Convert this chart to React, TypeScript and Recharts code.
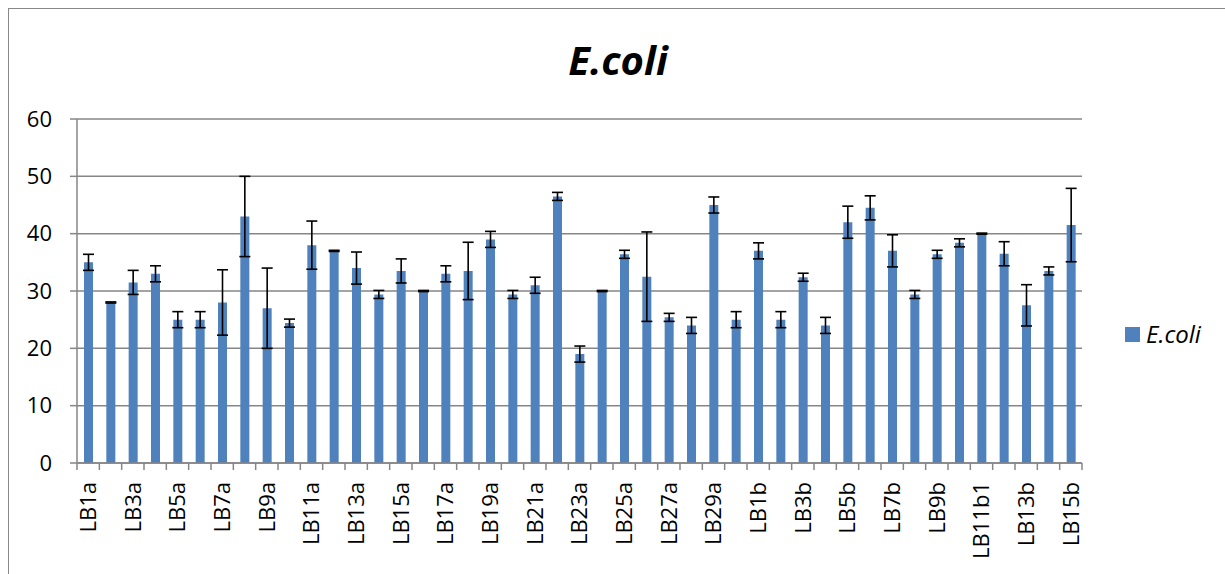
import { ComposedChart, Bar, ErrorBar, XAxis, YAxis, CartesianGrid, Legend } from "recharts";

const categories = [
  "LB1a", "LB2a", "LB3a", "LB4a", "LB5a", "LB6a", "LB7a", "LB8a", "LB9a", "LB10a",
  "LB11a", "LB12a", "LB13a", "LB14a", "LB15a", "LB16a", "LB17a", "LB18a", "LB19a", "LB20a",
  "LB21a", "LB22a", "LB23a", "LB24a", "LB25a", "LB26a", "LB27a", "LB28a", "LB29a", "LB30a",
  "LB1b", "LB2b", "LB3b", "LB4b", "LB5b", "LB6b", "LB7b", "LB8b", "LB9b", "LB10b",
  "LB11b1", "LB12b", "LB13b", "LB14b", "LB15b",
];

const ecoli = [
  35, 28, 31.5, 33, 25, 25, 28, 43, 27, 24.4,
  38, 37, 34, 29.4, 33.5, 30, 33, 33.5, 39, 29.4,
  31, 46.5, 19, 30, 36.4, 32.5, 25.4, 24, 45, 25,
  37, 25, 32.4, 24, 42, 44.5, 37, 29.4, 36.4, 38.4,
  40, 36.5, 27.5, 33.5, 41.5,
];

const ecoliErr = [
  1.4, 0.1, 2.1, 1.4, 1.4, 1.4, 5.7, 7, 7, 0.7,
  4.2, 0.1, 2.8, 0.7, 2.1, 0.1, 1.4, 5, 1.4, 0.7,
  1.4, 0.7, 1.4, 0.1, 0.7, 7.8, 0.7, 1.4, 1.4, 1.4,
  1.4, 1.4, 0.7, 1.4, 2.8, 2.1, 2.8, 0.7, 0.7, 0.7,
  0.1, 2.1, 3.6, 0.7, 6.4,
];

const yTicks = [0, 10, 20, 30, 40, 50, 60];

const data = categories.map((name, i) => ({ name, ecoli: ecoli[i], err: ecoliErr[i] }));

const CHART_W = 1216;
const CHART_H = 565;
const MARGIN = { top: 110, right: 53, bottom: 0, left: 0 };
const Y_AXIS_W = 68;
const LEGEND_W = 90;
const PLOT_W = CHART_W - MARGIN.left - MARGIN.right - Y_AXIS_W - LEGEND_W;
const AXIS_COLOR = "#868686";
const BAR_COLOR = "#4f81bd";
const FONT = "'Open Sans', sans-serif";

// excel style: tick marks between categories, label on every other one
function CategoryTick(props: any) {
  const { x, y, payload, index } = props;
  const band = PLOT_W / categories.length;
  const ty = y + 19;
  return (
    <g>
      <line x1={x - band / 2} y1={y} x2={x - band / 2} y2={y + 7} stroke={AXIS_COLOR} strokeWidth={1.5} />
      {index === categories.length - 1 && (
        <line x1={x + band / 2} y1={y} x2={x + band / 2} y2={y + 7} stroke={AXIS_COLOR} strokeWidth={1.5} />
      )}
      {index % 2 === 0 && (
        <text
          x={x}
          y={ty}
          dy="0.36em"
          transform={`rotate(-90, ${x}, ${ty})`}
          textAnchor="end"
          fontSize={22}
          fontFamily={FONT}
          fill="#000"
        >
          {payload.value}
        </text>
      )}
    </g>
  );
}

function LegendContent(props: any) {
  const items = props.payload ?? [];
  return (
    <div>
      {items.map((entry: any) => (
        <div key={entry.value} style={{ display: "flex", alignItems: "center", lineHeight: "30px" }}>
          <span style={{ width: 15, height: 15, background: BAR_COLOR, marginRight: 6, display: "inline-block" }} />
          <span style={{ fontStyle: "italic", fontSize: 24, fontFamily: FONT, color: "#000" }}>{entry.value}</span>
        </div>
      ))}
    </div>
  );
}

export default function App() {
  return (
    <div
      style={{
        position: "absolute",
        top: 8,
        left: 8,
        width: CHART_W + 1,
        height: CHART_H + 1,
        borderLeft: "1px solid #888",
        borderTop: "1px solid #888",
        boxSizing: "border-box",
        background: "#fff",
      }}
    >
      <ComposedChart width={CHART_W} height={CHART_H} data={data} margin={MARGIN}>
        <text x={609} y={66} textAnchor="middle" fontSize={40} fontWeight="bold" fontStyle="italic" fontFamily={FONT} fill="#000">
          E.coli
        </text>
        <CartesianGrid vertical={false} stroke={AXIS_COLOR} strokeWidth={1.5} />
        <XAxis
          dataKey="name"
          interval={0}
          height={CHART_H - MARGIN.top - 344}
          tickSize={0}
          tickMargin={0}
          tickLine={false}
          axisLine={{ stroke: AXIS_COLOR, strokeWidth: 1.5 }}
          tick={<CategoryTick />}
        />
        <YAxis
          width={Y_AXIS_W}
          domain={[0, 60]}
          ticks={yTicks}
          tickSize={7}
          tickMargin={18}
          tickLine={{ stroke: AXIS_COLOR, strokeWidth: 1.5 }}
          axisLine={{ stroke: AXIS_COLOR, strokeWidth: 1.5 }}
          tick={{ fontSize: 22, fontFamily: FONT, fill: "#000" }}
        />
        <Legend
          layout="vertical"
          align="right"
          verticalAlign="middle"
          content={<LegendContent />}
          wrapperStyle={{ width: LEGEND_W, left: 1116, top: 310 }}
        />
        <Bar dataKey="ecoli" name="E.coli" fill={BAR_COLOR} barSize={9} isAnimationActive={false}>
          <ErrorBar dataKey="err" width={5.5} stroke="#000" strokeWidth={1.6} isAnimationActive={false} />
        </Bar>
      </ComposedChart>
    </div>
  );
}
